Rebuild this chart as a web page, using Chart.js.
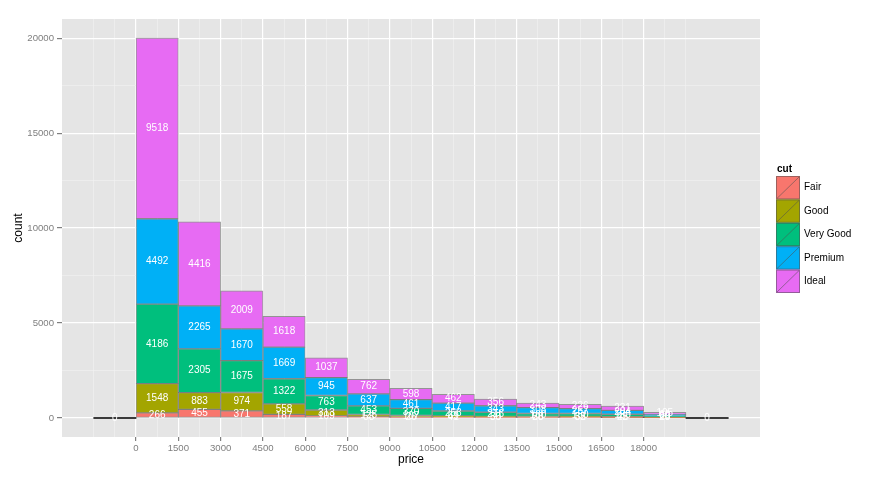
<!DOCTYPE html>
<html>
<head>
<meta charset="utf-8">
<script src="https://cdn.jsdelivr.net/npm/chart.js@4.4.1/dist/chart.umd.min.js"></script>
<style>
  html, body { margin: 0; padding: 0; background: #ffffff; }
  #wrap { width: 884px; height: 479px; position: relative; }
</style>
</head>
<body>
<div id="wrap"><canvas id="priceChart" width="884" height="479"></canvas></div>
<script>
// bins of 1500, given by their left edge
var binStarts = [-1500, 0, 1500, 3000, 4500, 6000, 7500, 9000, 10500, 12000, 13500, 15000, 16500, 18000, 19500];
var binWidth = 1500;

var cuts = ['Fair', 'Good', 'Very Good', 'Premium', 'Ideal'];
var fair     = [0,  266,  455,  371,  187,  109,  58,  26,  41,  30,  28,  32,  22,  20, 0];
var good     = [0, 1548,  883,  974,  558,  313, 125, 107,  69,  55,  50,  55,  45,  25, 0];
var veryGood = [0, 4186, 2305, 1675, 1322,  763, 453, 370, 258, 216, 160, 150, 130,  60, 0];
var premium  = [0, 4492, 2265, 1670, 1669,  945, 637, 461, 417, 343, 308, 257, 204,  90, 0];
var ideal    = [0, 9518, 4416, 2009, 1618, 1037, 762, 598, 462, 356, 243, 226, 231, 105, 0];

var xTickLabels = [0, 1500, 3000, 4500, 6000, 7500, 9000, 10500, 12000, 13500, 15000, 16500, 18000];
var yTickLabels = [0, 5000, 10000, 15000, 20000];

var colors = ['#F8766D', '#A3A500', '#00BF7D', '#00B0F6', '#E76BF3'];
var series = [fair, good, veryGood, premium, ideal];
var FONT = "'Liberation Sans', Arial, sans-serif";

// stacked totals, for the axis range
var totals = binStarts.map(function(b, i) {
    return series.reduce(function(s, arr) { return s + arr[i]; }, 0);
});
var yMaxData = Math.max.apply(null, totals);
var yPad = yMaxData * 0.05;
var xLo = binStarts[0], xHi = binStarts[binStarts.length - 1] + binWidth;
var xPad = (xHi - xLo) * 0.05;

// minor breaks sit half way between the majors (and one step outside)
var xStep = xTickLabels[1] - xTickLabels[0];
var xGrid = [];
for (var v = xTickLabels[0] - xStep; v <= xTickLabels[xTickLabels.length - 1] + xStep; v += xStep / 2) xGrid.push(v);
var yStep = yTickLabels[1] - yTickLabels[0];
var yGrid = [];
for (var w = yTickLabels[0]; w <= yTickLabels[yTickLabels.length - 1]; w += yStep / 2) yGrid.push(w);

function toPoints(arr) {
    return arr.map(function(val, i) { return { x: binStarts[i] + binWidth / 2, y: val }; });
}

var datasets = series.map(function(arr, k) {
    return {
        label: cuts[k],
        data: toPoints(arr),
        backgroundColor: colors[k],
        borderColor: 'rgba(80,80,80,0.55)',
        borderWidth: 1,
        borderSkipped: false
    };
});
// empty bins still show their outline on the zero line
datasets.push({
    label: 'empty',
    data: totals.map(function(t, i) { return { x: binStarts[i] + binWidth / 2, y: t === 0 ? 0 : null }; }),
    backgroundColor: '#3a3a3a',
    borderWidth: 0,
    minBarLength: 1.5
});

function isMajor(val, list) { return list.indexOf(val) !== -1; }

var panelPlugin = {
    id: 'panel',
    beforeDraw: function(chart) {
        var a = chart.chartArea, c = chart.ctx;
        c.save();
        c.fillStyle = '#E5E5E5';
        c.fillRect(a.left, a.top, a.right - a.left, a.bottom - a.top);
        c.restore();
    }
};

var countLabels = {
    id: 'countLabels',
    afterDatasetsDraw: function(chart) {
        var c = chart.ctx;
        c.save();
        c.fillStyle = '#ffffff';
        c.font = '10px ' + FONT;
        c.textAlign = 'center';
        c.textBaseline = 'middle';
        for (var d = 0; d < series.length; d++) {
            var meta = chart.getDatasetMeta(d);
            meta.data.forEach(function(el, i) {
                var val = series[d][i];
                if (val > 0) c.fillText(String(val), el.x, (el.y + el.base) / 2);
            });
        }
        var emptyMeta = chart.getDatasetMeta(series.length);
        var y0 = chart.scales.y.getPixelForValue(0);
        emptyMeta.data.forEach(function(el, i) {
            if (totals[i] === 0) c.fillText('0', el.x, y0);
        });
        c.restore();
    }
};

var legendPlugin = {
    id: 'cutLegend',
    afterDraw: function(chart) {
        var c = chart.ctx;
        var x = 776, y = 176, w = 24, h = 23.4;
        c.save();
        c.fillStyle = '#000000';
        c.font = 'bold 10px ' + FONT;
        c.textBaseline = 'middle';
        c.fillText('cut', 777, 169);
        c.font = '10px ' + FONT;
        for (var k = 0; k < cuts.length; k++) {
            var top = y + k * h;
            c.fillStyle = colors[k];
            c.fillRect(x, top, w, h);
            c.strokeStyle = 'rgba(80,80,80,0.55)';
            c.lineWidth = 1;
            c.strokeRect(x + 0.5, top + 0.5, w - 1, h - 1);
            c.beginPath();
            c.moveTo(x + 1, top + h - 1);
            c.lineTo(x + w - 1, top + 1);
            c.stroke();
            c.fillStyle = '#000000';
            c.fillText(cuts[k], x + w + 4, top + h / 2);
        }
        c.restore();
    }
};

var ctx = document.getElementById('priceChart').getContext('2d');
var priceChart = new Chart(ctx, {
    type: 'bar',
    data: { datasets: datasets },
    options: {
        responsive: false,
        animation: false,
        devicePixelRatio: 1,
        layout: { padding: { left: 0, top: 19, right: 124, bottom: 0 } },
        // flex: each bar spans the gap to its neighbouring bins
        datasets: { bar: { barThickness: 'flex', barPercentage: 1, categoryPercentage: 1 } },
        plugins: {
            legend: { display: false },
            tooltip: { enabled: false }
        },
        scales: {
            x: {
                type: 'linear',
                stacked: true,
                offset: false,
                min: xLo - xPad,
                max: xHi + xPad,
                afterBuildTicks: function(axis) {
                    axis.ticks = xGrid.map(function(v) { return { value: v }; });
                },
                afterFit: function(axis) { axis.height = 42; },
                border: { display: false },
                grid: {
                    offset: false,
                    drawTicks: true,
                    tickLength: 4,
                    color: function(c) { return isMajor(c.tick.value, xTickLabels) ? '#ffffff' : '#F2F2F2'; },
                    lineWidth: function(c) { return isMajor(c.tick.value, xTickLabels) ? 1.2 : 0.6; },
                    tickColor: function(c) { return isMajor(c.tick.value, xTickLabels) ? '#7F7F7F' : 'rgba(0,0,0,0)'; }
                },
                ticks: {
                    autoSkip: false,
                    maxRotation: 0,
                    padding: 2,
                    color: '#7F7F7F',
                    font: { family: FONT, size: 9.6 },
                    callback: function(v) { return isMajor(v, xTickLabels) ? String(v) : ''; }
                },
                title: {
                    display: true,
                    text: 'price',
                    color: '#000000',
                    font: { family: FONT, size: 12 },
                    padding: { top: 0, bottom: 12 }
                }
            },
            y: {
                stacked: true,
                min: -yPad,
                max: yMaxData + yPad,
                afterBuildTicks: function(axis) {
                    axis.ticks = yGrid.map(function(v) { return { value: v }; });
                },
                afterFit: function(axis) { axis.width = 62; },
                border: { display: false },
                grid: {
                    drawTicks: true,
                    tickLength: 5,
                    color: function(c) { return isMajor(c.tick.value, yTickLabels) ? '#ffffff' : '#F2F2F2'; },
                    lineWidth: function(c) { return isMajor(c.tick.value, yTickLabels) ? 1.2 : 0.6; },
                    tickColor: function(c) { return isMajor(c.tick.value, yTickLabels) ? '#7F7F7F' : 'rgba(0,0,0,0)'; }
                },
                ticks: {
                    autoSkip: false,
                    padding: 3,
                    color: '#7F7F7F',
                    font: { family: FONT, size: 9.6 },
                    callback: function(v) { return isMajor(v, yTickLabels) ? String(v) : ''; }
                },
                title: {
                    display: true,
                    text: 'count',
                    color: '#000000',
                    font: { family: FONT, size: 12 },
                    padding: { top: 11, bottom: 0 }
                }
            }
        }
    },
    plugins: [panelPlugin, countLabels, legendPlugin]
});
</script>
</body>
</html>
